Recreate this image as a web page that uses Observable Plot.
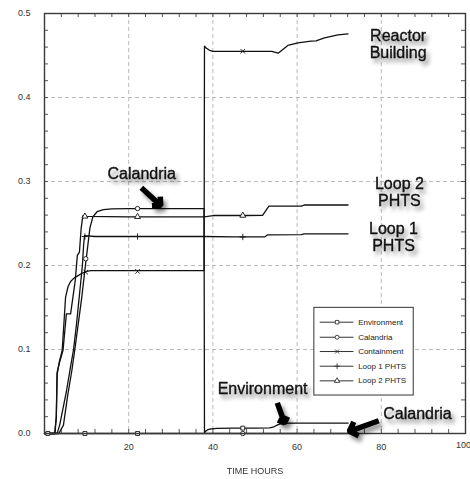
<!DOCTYPE html>
<html><head><meta charset="utf-8">
<script src="https://cdn.jsdelivr.net/npm/d3@7"></script>
<script src="https://cdn.jsdelivr.net/npm/@observablehq/plot@0.6"></script>
<style>
body{margin:0;background:#fff;}
#chart svg{display:block;}
</style></head><body><div id="chart"></div>
<script>
// ---- data ----
const seriesNames = ["Environment","Calandria","Containment","Loop 1 PHTS","Loop 2 PHTS"];
const seriesSymbols = ["square","circle","times","plus","triangle"];

const envT = [0, 37.9, 38.2, 38.8, 39.6, 41, 45, 50, 53.5, 54.5, 55.5, 56.6, 60, 72.1];
const envV = [0, 0, 0.0025, 0.0045, 0.0055, 0.006, 0.0063, 0.0065, 0.0066, 0.008, 0.0105, 0.0122, 0.0123, 0.0123];

const calT = [0, 3.4, 4.5, 5.5, 6.5, 7.2, 8.0, 8.8, 9.6, 10.2, 10.8, 11.5, 12.5, 14, 16, 20, 30, 37.9, 38.0, 72.1];
const calV = [0, 0, 0.01, 0.045, 0.075, 0.1, 0.13, 0.16, 0.195, 0.22, 0.245, 0.258, 0.264, 0.2665, 0.2675, 0.2678, 0.2678, 0.2678, 0, 0];

const conT = [0, 2.5, 2.8, 3.0, 3.5, 4.2, 4.6, 5.0, 5.6, 6.2, 7.0, 8.0, 9.0, 10.0, 11, 20, 37.9, 38.0, 38.4, 39.1, 40, 45, 50, 54, 55.5, 57.8, 60.2, 63.3, 64.5, 66.5, 69.7, 72.1];
const conV = [0, 0, 0.02, 0.07, 0.085, 0.099, 0.13, 0.162, 0.175, 0.181, 0.185, 0.188, 0.191, 0.193, 0.194, 0.194, 0.194, 0.461, 0.459, 0.4565, 0.455, 0.455, 0.455, 0.455, 0.4528, 0.462, 0.465, 0.467, 0.4675, 0.471, 0.4746, 0.4758];

const l1T = [0, 3.0, 3.6, 4.4, 5.2, 6.2, 6.9, 7.6, 8.4, 9.0, 9.3, 9.5, 12, 20, 38, 45, 52.3, 53, 61, 61.7, 72.1];
const l1V = [0, 0, 0.01, 0.03, 0.05, 0.08, 0.1, 0.13, 0.17, 0.2, 0.225, 0.2355, 0.2345, 0.2345, 0.2345, 0.234, 0.234, 0.2365, 0.2367, 0.2377, 0.2377];

const l2T = [0, 2.4, 2.8, 3.0, 3.6, 4.4, 5.2, 6.2, 7.3, 7.8, 8.3, 8.7, 9.1, 10, 20, 38, 40, 48, 51.8, 53.3, 61, 61.7, 72.1];
const l2V = [0, 0, 0.019, 0.073, 0.085, 0.099, 0.1425, 0.1425, 0.182, 0.212, 0.216, 0.244, 0.259, 0.2585, 0.258, 0.258, 0.2595, 0.2595, 0.2598, 0.2706, 0.2708, 0.272, 0.272];

// marker positions
const markT = {
  "Environment": [0.8, 9.6, 22.1, 47.1],
  "Calandria":   [9.8, 22.1, 47.1],
  "Containment": [9.8, 22.1, 47.1],
  "Loop 1 PHTS": [9.6, 22.1, 47.1],
  "Loop 2 PHTS": [9.6, 22.1, 47.1]
};
const markV = {
  "Environment": [0, 0, 0, 0.0064],
  "Calandria":   [0.208, 0.2678, 0],
  "Containment": [0.192, 0.193, 0.455],
  "Loop 1 PHTS": [0.2345, 0.2345, 0.234],
  "Loop 2 PHTS": [0.2585, 0.258, 0.2595]
};

const xTickLabels = [20, 40, 60, 80];
const xLastTick = [100];
const yTickLabels = [0, 0.1, 0.2, 0.3, 0.4, 0.5];
const xGrid = [20, 40, 60, 80];
const yGrid = [0.1, 0.2, 0.3, 0.4];
const xMinor = d3.range(4, 100, 4);
const yMinor = d3.range(1, 25).map(i => i * 0.02);

// annotations (data coordinates)
const annoLabels = ["Reactor\nBuilding", "Loop 2\nPHTS", "Loop 1\nPHTS", "Calandria", "Environment", "Calandria"];
const annoT = [84.0, 84.3, 82.9, 23.1, 51.8, 88.6];
const annoV = [0.4637, 0.2875, 0.2333, 0.3095, 0.0535, 0.0242];

const arrowT1 = [23.0, 55.3, 79.4];
const arrowV1 = [0.2925, 0.0365, 0.0152];
const arrowT2 = [27.6, 57.0, 72.4];
const arrowV2 = [0.2715, 0.0125, 0.0026];

// legend (data coordinates)
const legendBox = {x1: 64.1, x2: 87.7, y1: 0.0452, y2: 0.1496};
const legendRowV = [0.1325, 0.1146, 0.0976, 0.0801, 0.0627];
const legendLineT = [65.5, 73.5];
const legendMarkT = 69.5;
const legendTextT = 74.5;

// ---- build tables ----
const seriesT = [envT, calT, conT, l1T, l2T];
const seriesV = [envV, calV, conV, l1V, l2V];
const lineData = seriesNames.flatMap((s, i) => seriesT[i].map((t, j) => ({series: s, t, v: seriesV[i][j]})));
const markData = seriesNames.flatMap(s => markT[s].map((t, j) => ({series: s, t, v: markV[s][j]})));
const annos = annoLabels.map((label, i) => ({label, t: annoT[i], v: annoV[i]}));
const arrows = arrowT1.map((t, i) => ({x1: t, y1: arrowV1[i], x2: arrowT2[i], y2: arrowV2[i]}));
const legendRows = seriesNames.map((s, i) => ({series: s, v: legendRowV[i]}));

const ink = "#111";
const plot = Plot.plot({
  width: 470, height: 479,
  marginLeft: 44, marginRight: 5, marginTop: 13, marginBottom: 46,
  x: {domain: [0, 100]},
  y: {domain: [0, 0.5]},
  symbol: {domain: seriesNames, range: seriesSymbols},
  style: {fontFamily: "'Liberation Sans', Arial, sans-serif", fontSize: "9px", color: "#333", background: "#fff"},
  marks: [
    Plot.gridX(xGrid, {stroke: "#bbb", strokeOpacity: 1, strokeDasharray: "4,3"}),
    Plot.gridY(yGrid, {stroke: "#bbb", strokeOpacity: 1, strokeDasharray: "4,3"}),
    Plot.ruleY(yMinor, {x1: 0, x2: 0.95, stroke: "#555"}),
    Plot.ruleY(yMinor, {x1: 99.05, x2: 100, stroke: "#555"}),
    Plot.ruleX(xMinor, {y1: 0, y2: 0.0048, stroke: "#555"}),
    Plot.ruleX(xMinor, {y1: 0.4952, y2: 0.5, stroke: "#555"}),
    Plot.line(lineData, {x: "t", y: "v", z: "series", stroke: ink, strokeWidth: 1.3}),
    Plot.dot(markData, {x: "t", y: "v", symbol: "series", fill: "white", stroke: ink, r: 2.2, strokeWidth: 0.9}),
    Plot.frame({stroke: "#3a3a3a", strokeWidth: 1.4}),
    Plot.axisX(xTickLabels, {tickSize: 0, tickPadding: 10, label: null, fill: "#333"}),
    Plot.text(xLastTick, {x: d => d, frameAnchor: "bottom", dy: 14, dx: -2, fill: "#333"}),
    Plot.axisY(yTickLabels, {tickSize: 0, tickPadding: 14, label: null, tickFormat: d3.format(".1f"), fill: "#333"}),
    // legend
    Plot.rect([legendBox], {x1: "x1", x2: "x2", y1: "y1", y2: "y2", fill: "white", stroke: "#333", strokeWidth: 1}),
    Plot.ruleY(legendRows, {y: "v", x1: legendLineT[0], x2: legendLineT[1], stroke: "#333", strokeWidth: 1}),
    Plot.dot(legendRows, {x: legendMarkT, y: "v", symbol: "series", fill: "white", stroke: "#333", r: 2, strokeWidth: 0.9}),
    Plot.text(legendRows, {x: legendTextT, y: "v", text: "series", textAnchor: "start", fontSize: 8, fill: "#222"}),
    // annotations
    Plot.text(annos, {x: "t", y: "v", text: "label", fontSize: 16, lineHeight: 1.06, fill: ink, stroke: ink, strokeWidth: 0.35, ariaDescription: "shadow"}),
    Plot.arrow(arrows, {x1: "x1", y1: "y1", x2: "x2", y2: "y2", stroke: "#000", strokeWidth: 5.5, headLength: 9, headAngle: 90, strokeLinejoin: "miter", strokeLinecap: "butt", ariaDescription: "shadow"}),
    Plot.text(["TIME HOURS"], {frameAnchor: "bottom", dy: 40, fontSize: 9, fill: "#333"})
  ]
});
document.getElementById("chart").appendChild(plot);
d3.select(plot).selectAll("[aria-description=shadow]").style("filter", "drop-shadow(3px 4px 2px rgba(0,0,0,0.45))");
</script>
</body></html>
